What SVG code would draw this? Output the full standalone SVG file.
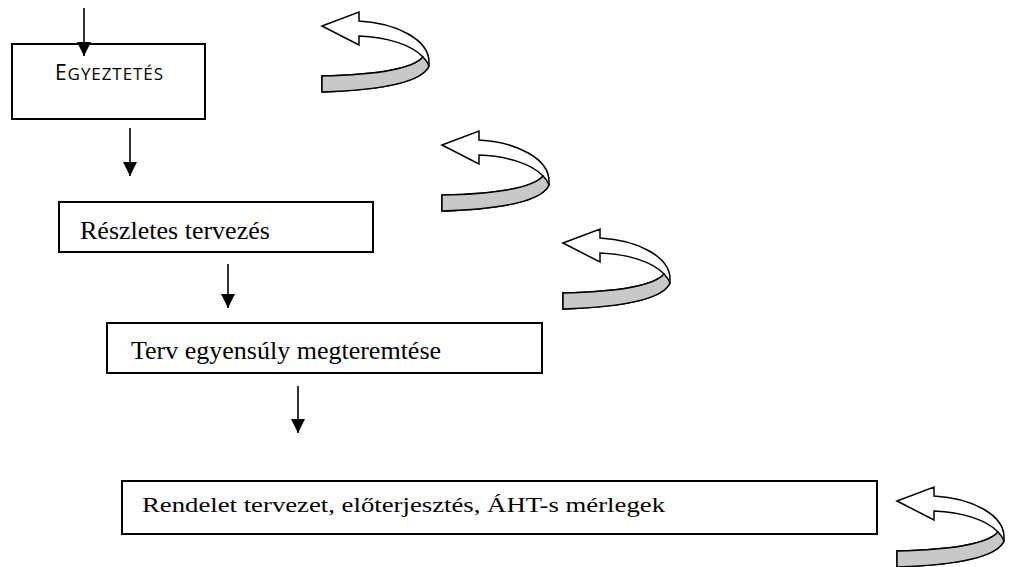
<svg xmlns="http://www.w3.org/2000/svg" width="1013" height="567" viewBox="0 0 1013 567">
<style>
.box{fill:#fff;stroke:#000;stroke-width:2}
.con{stroke:#000;stroke-width:1.6;fill:none}
.tr{font-family:"Liberation Serif","Times New Roman",serif;fill:#000}
.os{font-family:"Open Sans","Liberation Sans",sans-serif;fill:#000}
.rib{fill:#fff;stroke:#000;stroke-width:1.5;stroke-linejoin:miter}
.band{fill:#c8c8c8;stroke:#000;stroke-width:1.5}
</style>
<defs>
<marker id="ah" markerWidth="16" markerHeight="14" refX="14" refY="7" orient="auto" markerUnits="userSpaceOnUse"><path d="M0,0 L14,7 L0,14 Z" fill="#000"/></marker>
<g id="curl">
<path class="rib" d="M0,14 L37,0 L37,9 C75,11 107,28 107,50 L107,54 C100,70 60,78 0,80 L0,64 C45,63 90,58 101,45 C90,33 65,25 37,24 L37,33 Z"/>
<path class="band" d="M0,64 C45,63 90,58 101,45 C104,48 106,51 107,54 C100,70 60,78 0,80 Z"/>
</g>
</defs>
<g id="n1">
<rect class="box" x="12" y="44" width="193" height="75"/>
<text class="os" x="55" y="80" textLength="108" lengthAdjust="spacing"><tspan font-size="21">E</tspan><tspan font-size="17">GYEZTETÉS</tspan></text>
</g>
<g id="n2">
<rect class="box" x="59" y="202" width="314" height="50"/>
<text class="tr" x="80" y="239" font-size="26">Részletes tervezés</text>
</g>
<g id="n3">
<rect class="box" x="107" y="323" width="435" height="50"/>
<text class="tr" x="131" y="359" font-size="26">Terv egyensúly megteremtése</text>
</g>
<g id="n4">
<rect class="box" x="122" y="481" width="755" height="53"/>
<text class="tr" x="142" y="512" font-size="21" textLength="523" lengthAdjust="spacingAndGlyphs">Rendelet tervezet, előterjesztés, ÁHT-s mérlegek</text>
</g>
<g id="connectors">
<line class="con" x1="84" y1="8" x2="84" y2="56" marker-end="url(#ah)"/>
<line class="con" x1="130" y1="128" x2="130" y2="176" marker-end="url(#ah)"/>
<line class="con" x1="228" y1="264" x2="228" y2="308" marker-end="url(#ah)"/>
<line class="con" x1="298" y1="386" x2="298" y2="433" marker-end="url(#ah)"/>
</g>
<g id="curls">
<use href="#curl" x="322" y="12"/>
<use href="#curl" x="442" y="131"/>
<use href="#curl" x="563" y="229"/>
<use href="#curl" x="897" y="487"/>
</g>
</svg>
